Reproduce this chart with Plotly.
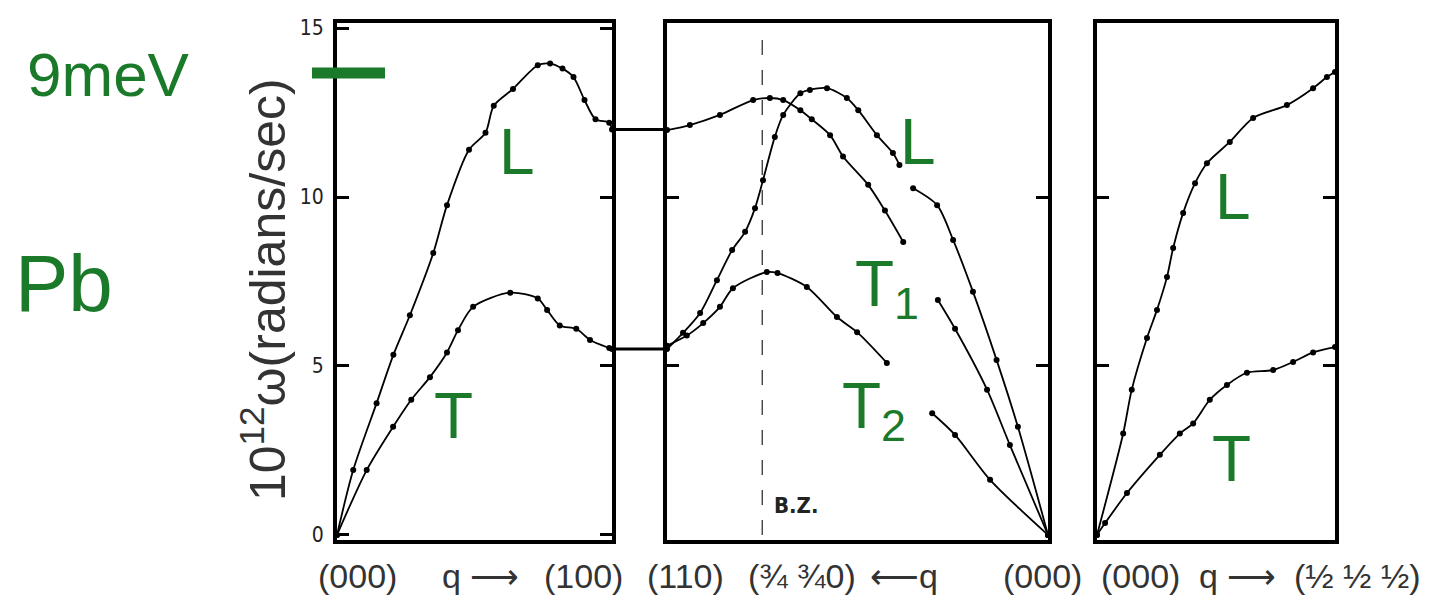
import plotly.graph_objects as go

# ---------------- data (10^12 rad/s vs reduced wave vector) ----------------
# Panel 1: [100] direction, (000) -> (100)
q100_L = [0, 0.059, 0.144, 0.205, 0.265, 0.35, 0.40, 0.48, 0.54, 0.57, 0.64, 0.73, 0.775, 0.82, 0.86, 0.90, 0.94, 0.99, 1.0]
w100_L = [0, 1.92, 3.9, 5.33, 6.5, 8.34, 9.76, 11.4, 11.9, 12.7, 13.2, 13.9, 13.95, 13.8, 13.55, 12.87, 12.3, 12.2, 12.0]
q100_T = [0, 0.108, 0.204, 0.27, 0.338, 0.40, 0.44, 0.495, 0.63, 0.73, 0.764, 0.81, 0.87, 0.92, 0.99, 1.0]
w100_T = [0, 1.92, 3.2, 4.0, 4.67, 5.4, 6.06, 6.75, 7.17, 7.0, 6.66, 6.2, 6.1, 5.77, 5.53, 5.5]

# Panel 2: [110] direction, (110) <- (3/4 3/4 0) <- (000)
q110_L = [1.0, 0.958, 0.913, 0.869, 0.829, 0.795, 0.769, 0.748, 0.717, 0.695, 0.65, 0.625, 0.58, 0.528, 0.498, 0.449, 0.407, 0.39, None, 0.354, 0.291, 0.249, 0.197, 0.135, 0.079, 0]
w110_L = [5.5, 5.98, 6.57, 7.54, 8.43, 8.97, 9.67, 10.5, 11.78, 12.43, 13.07, 13.17, 13.22, 12.93, 12.57, 11.83, 11.3, 10.95, None, 10.26, 9.76, 8.73, 7.2, 5.18, 3.2, 0]
q110_T1 = [1.0, 0.94, 0.861, 0.774, 0.73, 0.695, 0.65, 0.62, 0.572, 0.538, 0.472, 0.428, 0.38, None, 0.289, 0.244, 0.16, 0.10, 0]
w110_T1 = [11.98, 12.13, 12.43, 12.87, 12.93, 12.87, 12.57, 12.3, 11.83, 11.2, 10.36, 9.6, 8.67, None, 6.95, 6.1, 4.3, 2.66, 0]
q110_T2 = [1.0, 0.948, 0.905, 0.861, 0.827, 0.738, 0.71, 0.633, 0.554, 0.501, 0.423, None, 0.304, 0.244, 0.152, 0]
w110_T2 = [5.6, 5.9, 6.27, 6.75, 7.3, 7.78, 7.75, 7.34, 6.45, 6.0, 5.09, None, 3.6, 2.96, 1.63, 0]
zone_boundary_110 = 0.75

# Panel 3: [111] direction, (000) -> (1/2 1/2 1/2)
q111_L = [0, 0.055, 0.073, 0.105, 0.126, 0.147, 0.16, 0.181, 0.206, 0.231, 0.279, 0.328, 0.399, 0.454, 0.483, 0.5]
w111_L = [0, 3.0, 4.3, 5.83, 6.66, 7.63, 8.49, 9.53, 10.41, 11.0, 11.63, 12.34, 12.72, 13.22, 13.55, 13.7]
q111_T = [0, 0.017, 0.063, 0.132, 0.174, 0.202, 0.237, 0.273, 0.315, 0.37, 0.412, 0.454, 0.5]
w111_T = [0, 0.35, 1.24, 2.37, 3.0, 3.3, 4.0, 4.44, 4.8, 4.88, 5.12, 5.4, 5.56]

# values at the X point joining panels 1 and 2
join_L = 12.0
join_T = 5.5
energy_9meV = 13.67   # 9 meV in 10^12 rad/s

y_ticks = [0, 5, 10, 15]
bottom_labels = ["(000)", "q ⟶", "(100)", "(110)", "(¾ ¾0)", "⟵q", "(000)", "(000)", "q ⟶", "(½ ½ ½)"]
bottom_label_px = [357, 480, 583, 685, 802, 904, 1042, 1140, 1237, 1357]

# ---------------- styling ----------------
W, H = 1443, 601
GREEN = "#1b7a2a"
FONT = "Liberation Sans, Arial, sans-serif"
NARROW = "DejaVu Sans Condensed, Liberation Sans, sans-serif"

def pxx(x):
    return x / W

def pyy(y):
    return 1 - y / H

dom1 = [pxx(337), pxx(612)]
dom2 = [pxx(667), pxx(1048)]
dom3 = [pxx(1097), pxx(1335)]
ydom = [pyy(540), pyy(23)]
yrange = [-0.15, 15.15]

fig = go.Figure()

def branch(q, w, xa):
    fig.add_trace(go.Scatter(
        x=q, y=w, xaxis=xa, yaxis="y" if xa == "x" else "y" + xa[1:],
        mode="lines+markers", connectgaps=False,
        line=dict(color="black", width=1.8, shape="spline", smoothing=0.8),
        marker=dict(color="black", size=6),
        showlegend=False, hoverinfo="skip"))

branch(q100_L, w100_L, "x")
branch(q100_T, w100_T, "x")
branch(q110_L, w110_L, "x2")
branch(q110_T1, w110_T1, "x2")
branch(q110_T2, w110_T2, "x2")
branch(q111_L, w111_L, "x3")
branch(q111_T, w111_T, "x3")

axis_common = dict(showgrid=False, zeroline=False, showline=True, linewidth=4,
                   linecolor="black", mirror="ticks", automargin=False)

fig.update_layout(
    width=W, height=H, margin=dict(l=0, r=0, t=0, b=0, autoexpand=False),
    paper_bgcolor="white", plot_bgcolor="white",
    xaxis=dict(domain=dom1, range=[0, 1], anchor="y", showticklabels=False, ticks="", **axis_common),
    xaxis2=dict(domain=dom2, range=[1, 0], anchor="y2", showticklabels=False, ticks="", **axis_common),
    xaxis3=dict(domain=dom3, range=[0, 0.5], anchor="y3", showticklabels=False, ticks="", **axis_common),
    yaxis=dict(domain=ydom, range=yrange, anchor="x", tickvals=y_ticks, ticks="inside",
               ticklen=12, tickwidth=3, tickcolor="black", ticklabelstandoff=5,
               tickfont=dict(family=NARROW, size=21, color="#222"),
               **axis_common),
    yaxis2=dict(domain=ydom, range=yrange, anchor="x2", tickvals=[5, 10], ticks="inside",
                ticklen=12, tickwidth=3, tickcolor="black", showticklabels=False, **axis_common),
    yaxis3=dict(domain=ydom, range=yrange, anchor="x3", tickvals=[5, 10], ticks="inside",
                ticklen=12, tickwidth=3, tickcolor="black", showticklabels=False, **axis_common),
)

shapes = []
# joining lines across the gap between panels 1 and 2
for yv in (join_L, join_T):
    shapes.append(dict(type="line", xref="paper", yref="y", x0=dom1[1], x1=dom2[0], y0=yv, y1=yv,
                       line=dict(color="black", width=3)))
# zone boundary
shapes.append(dict(type="line", xref="x2", yref="y2", x0=zone_boundary_110, x1=zone_boundary_110,
                   y0=0, y1=14.9, line=dict(color="#333", width=1.3, dash="longdash")))
# 9 meV marker bar
shapes.append(dict(type="line", xref="paper", yref="y", x0=pxx(312), x1=pxx(385),
                   y0=energy_9meV, y1=energy_9meV, line=dict(color=GREEN, width=11)))
fig.update_layout(shapes=shapes)

ann = []
def gl(text, x, y, xref, size=64):
    ann.append(dict(text=text, x=x, y=y, xref=xref, yref="y", showarrow=False,
                    xanchor="center", yanchor="middle",
                    font=dict(family=FONT, size=size, color=GREEN)))

gl("L", 0.655, 11.33, "x")
gl("T", 0.425, 3.52, "x")
gl("L", 0.341, 11.63, "x2")
gl("T<sub>1</sub>", 0.423, 7.3, "x2")
gl("T<sub>2</sub>", 0.457, 3.7, "x2")
gl("L", 0.286, 10.0, "x3")
gl("T", 0.282, 2.25, "x3")

ann.append(dict(text="<b>B.Z.</b>", x=0.724, y=0.86, xref="x2", yref="y2", showarrow=False,
                xanchor="left", yanchor="middle",
                font=dict(family=NARROW, size=22, color="#222")))

for t, xp in zip(bottom_labels, bottom_label_px):
    ann.append(dict(text=t, x=pxx(xp), y=pyy(576), xref="paper", yref="paper", showarrow=False,
                    xanchor="center", yanchor="middle",
                    font=dict(family=FONT, size=34, color="#333")))

ann.append(dict(text="10<sup>12</sup>ω(radians/sec)", x=pxx(264), y=pyy(290), xref="paper", yref="paper",
                textangle=-90, showarrow=False, xanchor="center", yanchor="middle",
                font=dict(family=FONT, size=50, color="#333")))

ann.append(dict(text="9meV", x=pxx(108), y=pyy(74), xref="paper", yref="paper", showarrow=False,
                xanchor="center", yanchor="middle", font=dict(family=FONT, size=62, color=GREEN)))
ann.append(dict(text="Pb", x=pxx(64), y=pyy(283), xref="paper", yref="paper", showarrow=False,
                xanchor="center", yanchor="middle", font=dict(family=FONT, size=80, color=GREEN)))

fig.update_layout(annotations=ann)

fig.write_html("out.html", config={"displayModeBar": False},
               post_script="document.body.style.margin='0';document.body.style.padding='0';")
